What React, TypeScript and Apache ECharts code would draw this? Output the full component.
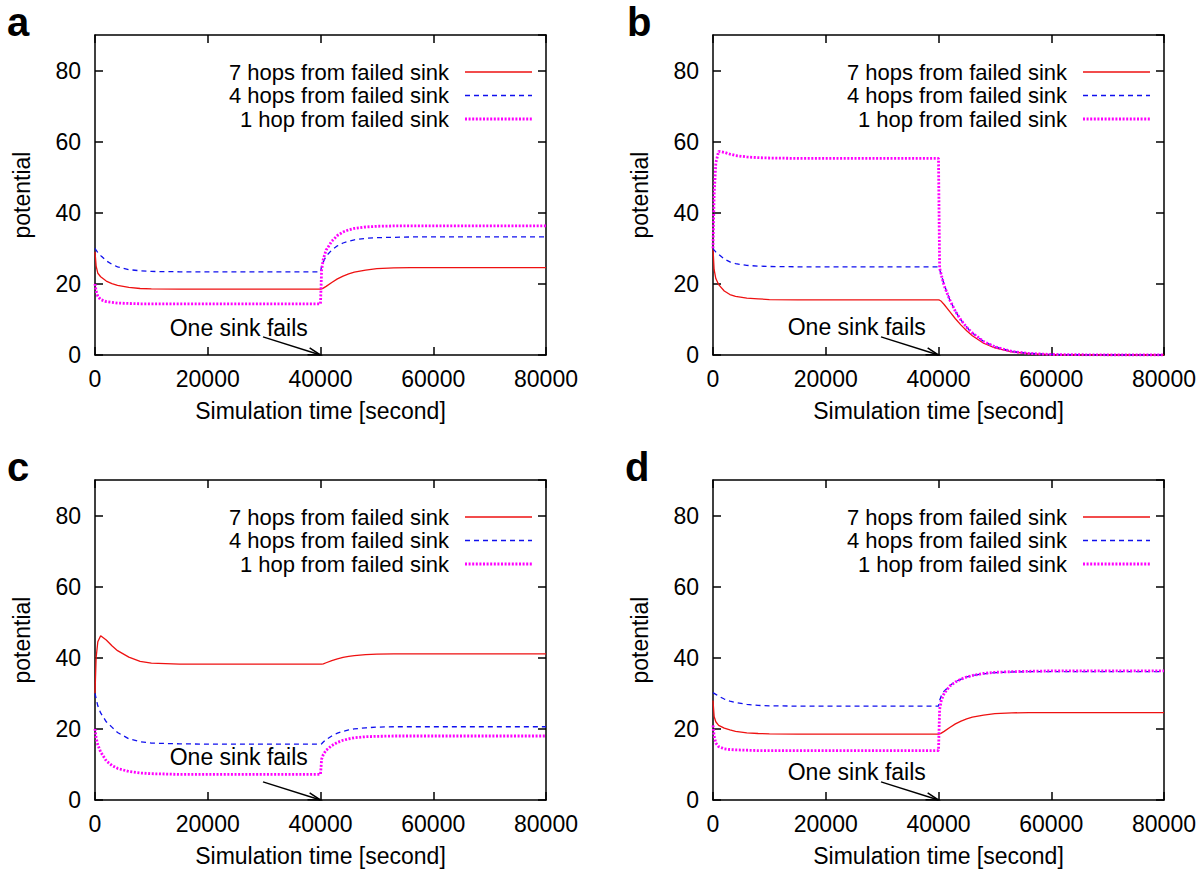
import React, { useEffect, useRef } from "react";
import * as echarts from "echarts";

// ---------- data ----------
const TIME = [
  0, 200, 500, 1000, 2000, 3000, 4000, 6000, 8000, 10000, 15000, 20000, 30000, 40000,
  40200, 40500, 41000, 42000, 43000, 44000, 45000, 46000, 48000, 50000, 53000, 56000,
  60000, 70000, 80000,
];

const SERIES_NAMES = ["7 hops from failed sink", "4 hops from failed sink", "1 hop from failed sink"];
const PANEL_LABELS = ["a", "b", "c", "d"];
const X_TITLE = "Simulation time [second]";
const Y_TITLE = "potential";
const ANNOT_TEXT = "One sink fails";

const X_MIN = 0;
const X_MAX = 80000;
const X_STEP = 20000;
const Y_MIN = 0;
const Y_MAX = 90;
const Y_STEP = 20;

// panel a
const aHop7 = [29, 25, 23, 22, 20.8, 20.1, 19.6, 19.0, 18.7, 18.6, 18.5, 18.5, 18.5, 18.5, 18.6, 18.8, 19.3, 20.4, 21.4, 22.2, 22.8, 23.3, 23.9, 24.3, 24.5, 24.6, 24.6, 24.6, 24.6];
const aHop4 = [30, 29.5, 28.8, 28, 26.5, 25.5, 24.8, 24.0, 23.7, 23.5, 23.4, 23.4, 23.4, 23.4, 25.0, 26.2, 27.8, 29.5, 30.7, 31.5, 32.0, 32.4, 32.8, 33.0, 33.1, 33.2, 33.2, 33.2, 33.2];
const aHop1 = [20, 18, 16.5, 15.6, 15.0, 14.8, 14.6, 14.5, 14.4, 14.4, 14.4, 14.4, 14.4, 14.4, 24.0, 27.0, 29.5, 32.0, 33.6, 34.6, 35.2, 35.6, 36.0, 36.2, 36.3, 36.3, 36.3, 36.3, 36.3];
// panel b
const bHop7 = [30, 24, 21.5, 19.8, 18.0, 17.0, 16.5, 16.0, 15.8, 15.6, 15.5, 15.5, 15.5, 15.5, 15.4, 15.1, 14.2, 12.2, 10.2, 8.4, 6.8, 5.4, 3.3, 2.0, 0.9, 0.4, 0.12, 0, 0];
const bHop4 = [30, 29.5, 29, 28.3, 27.0, 26.2, 25.7, 25.2, 25.0, 24.9, 24.8, 24.8, 24.8, 24.8, 24.0, 22.5, 19.8, 15.5, 12.3, 9.8, 7.8, 6.2, 3.8, 2.3, 1.0, 0.45, 0.15, 0, 0];
const bHop1 = [30, 45, 54, 57.3, 57.0, 56.5, 56.1, 55.7, 55.5, 55.4, 55.3, 55.3, 55.3, 55.3, 24.5, 22.5, 19.5, 15.5, 12.3, 9.8, 7.8, 6.2, 3.8, 2.3, 1.0, 0.45, 0.15, 0, 0];
// panel c
const cHop7 = [30, 40, 44.5, 46.2, 45.0, 43.4, 42.0, 40.2, 39.0, 38.5, 38.2, 38.2, 38.2, 38.2, 38.2, 38.3, 38.6, 39.2, 39.7, 40.1, 40.4, 40.6, 40.9, 41.0, 41.1, 41.1, 41.1, 41.1, 41.1];
const cHop4 = [30, 28.5, 26.5, 24.5, 22.0, 20.5, 19.0, 17.2, 16.4, 16.0, 15.8, 15.7, 15.7, 15.7, 15.8, 16.3, 17.0, 18.0, 18.8, 19.3, 19.7, 20.0, 20.3, 20.5, 20.6, 20.6, 20.6, 20.6, 20.6];
const cHop1 = [20, 17.5, 15.5, 13.5, 11.0, 9.7, 8.9, 8.0, 7.6, 7.4, 7.2, 7.2, 7.2, 7.2, 11.5, 12.8, 14.0, 15.3, 16.2, 16.8, 17.2, 17.5, 17.8, 17.9, 18.0, 18.0, 18.0, 18.0, 18.0];
// panel d
const dHop7 = [28, 23.5, 22, 21.0, 20.2, 19.7, 19.3, 18.9, 18.7, 18.6, 18.5, 18.5, 18.5, 18.5, 18.6, 18.8, 19.3, 20.4, 21.4, 22.2, 22.8, 23.3, 23.9, 24.3, 24.5, 24.6, 24.6, 24.6, 24.6];
const dHop4 = [30.2, 30.0, 29.7, 29.2, 28.4, 27.8, 27.4, 26.9, 26.6, 26.5, 26.4, 26.4, 26.4, 26.4, 28.0, 29.3, 30.6, 32.2, 33.3, 34.0, 34.6, 35.0, 35.5, 35.8, 36.0, 36.1, 36.1, 36.1, 36.1];
const dHop1 = [21, 18, 16, 15.0, 14.4, 14.2, 14.1, 14.0, 13.9, 13.9, 13.9, 13.9, 13.9, 13.9, 25.5, 28.0, 30.0, 32.0, 33.2, 34.0, 34.6, 35.0, 35.6, 35.9, 36.1, 36.2, 36.3, 36.3, 36.3];

const PANEL_DATA = [
  [aHop7, aHop4, aHop1],
  [bHop7, bHop4, bHop1],
  [cHop7, cHop4, cHop1],
  [dHop7, dHop4, dHop1],
];

// annotation anchor points (data coordinates)
const ANNOT_TEXT_X = [25500, 25500, 25500, 25500];
const ANNOT_TEXT_Y = [7.6, 7.9, 12.1, 7.9];
const ARROW_FROM = [29800, 5.1];
const ARROW_TO = [40000, 0];

// ---------- layout & style ----------
const GRID_LEFT = [95, 713, 95, 713];
const GRID_TOP = [35, 35, 480, 480];
const GRID_W = 451;
const GRID_H = 320;
const FONT = '"Liberation Sans", Arial, Helvetica, sans-serif';
const FS = 23;
const LEGEND_FS = 22;

const LINE_STYLES = [
  { color: "#ee1111", width: 1.3, type: "solid" as any },
  { color: "#1010ee", width: 1.3, type: [5, 4] as any },
  { color: "#ff00ff", width: 2.8, type: [2, 1.6] as any },
];

function buildOption() {
  const grids: any[] = [];
  const xAxes: any[] = [];
  const yAxes: any[] = [];
  const series: any[] = [];
  const frameLine = { show: true, onZero: false, lineStyle: { color: "#000", width: 1.5 } };
  const tick = { show: true, inside: true, length: 8, lineStyle: { color: "#000", width: 1.5 } };
  for (let i = 0; i < 4; i++) {
    grids.push({ left: GRID_LEFT[i], top: GRID_TOP[i], width: GRID_W, height: GRID_H, containLabel: false });
    xAxes.push({
      type: "value", gridIndex: i, position: "bottom", min: X_MIN, max: X_MAX, interval: X_STEP,
      axisLine: frameLine, axisTick: tick, splitLine: { show: false },
      axisLabel: { color: "#000", fontSize: FS, fontFamily: FONT, margin: 12, formatter: (v: number) => String(v) },
      name: X_TITLE, nameLocation: "middle", nameGap: 44,
      nameTextStyle: { color: "#000", fontSize: FS, fontFamily: FONT },
    });
    xAxes.push({
      type: "value", gridIndex: i, position: "top", min: X_MIN, max: X_MAX, interval: X_STEP,
      axisLine: frameLine, axisTick: tick, splitLine: { show: false }, axisLabel: { show: false },
    });
    yAxes.push({
      type: "value", gridIndex: i, position: "left", min: Y_MIN, max: Y_MAX, interval: Y_STEP,
      axisLine: frameLine, axisTick: tick, splitLine: { show: false },
      axisLabel: { color: "#000", fontSize: FS, fontFamily: FONT, margin: 14, showMaxLabel: false, formatter: (v: number) => String(v) },
      name: Y_TITLE, nameLocation: "middle", nameGap: 62, nameRotate: 90,
      nameTextStyle: { color: "#000", fontSize: FS, fontFamily: FONT },
    });
    yAxes.push({
      type: "value", gridIndex: i, position: "right", min: Y_MIN, max: Y_MAX, interval: Y_STEP,
      axisLine: frameLine, axisTick: tick, splitLine: { show: false }, axisLabel: { show: false },
    });
    PANEL_DATA[i].forEach((vals, s) => {
      series.push({
        name: SERIES_NAMES[s],
        type: "line",
        xAxisIndex: 2 * i,
        yAxisIndex: 2 * i,
        showSymbol: false,
        symbol: "none",
        smooth: false,
        z: 3 + s,
        lineStyle: { ...LINE_STYLES[s] },
        itemStyle: { color: LINE_STYLES[s].color },
        data: TIME.map((t, k) => [t, vals[k]]),
      });
    });
  }
  return {
    animation: false,
    backgroundColor: "#ffffff",
    grid: grids,
    xAxis: xAxes,
    yAxis: yAxes,
    series,
  };
}

function buildGraphics(chart: any) {
  const g: any[] = [];
  const labelPos = [
    [7, 22],
    [627, 22],
    [7, 467],
    [625, 467],
  ];
  for (let i = 0; i < 4; i++) {
    // panel letter
    g.push({
      type: "text", x: labelPos[i][0], y: labelPos[i][1],
      style: { text: PANEL_LABELS[i], fill: "#000", fontSize: 40, fontWeight: "bold", fontFamily: FONT, align: "left", verticalAlign: "middle" },
    });
    // legend
    const bx = GRID_LEFT[i];
    const by = GRID_TOP[i];
    const rows = [37, 60.5, 84];
    SERIES_NAMES.forEach((name, s) => {
      g.push({
        type: "text", x: bx + 354, y: by + rows[s],
        style: { text: name, fill: "#000", fontSize: LEGEND_FS, fontFamily: FONT, align: "right", verticalAlign: "middle" },
      });
      const ls = LINE_STYLES[s];
      g.push({
        type: "line",
        shape: { x1: bx + 370, y1: by + rows[s], x2: bx + 437, y2: by + rows[s] },
        style: { stroke: ls.color, lineWidth: ls.width, lineDash: Array.isArray(ls.type) ? ls.type : null },
      });
    });
    // annotation
    const finder = { xAxisIndex: 2 * i, yAxisIndex: 2 * i };
    const tp = chart.convertToPixel(finder, [ANNOT_TEXT_X[i], ANNOT_TEXT_Y[i]]);
    const p0 = chart.convertToPixel(finder, ARROW_FROM);
    const p1 = chart.convertToPixel(finder, ARROW_TO);
    g.push({
      type: "text", x: tp[0], y: tp[1],
      style: { text: ANNOT_TEXT, fill: "#000", fontSize: FS, fontFamily: FONT, align: "center", verticalAlign: "middle" },
    });
    g.push({
      type: "line",
      shape: { x1: p0[0], y1: p0[1], x2: p1[0], y2: p1[1] },
      style: { stroke: "#000", lineWidth: 1.5 },
    });
    const dx = p1[0] - p0[0];
    const dy = p1[1] - p0[1];
    const len = Math.sqrt(dx * dx + dy * dy);
    const ux = dx / len;
    const uy = dy / len;
    const L = 13;
    const ang = (16 * Math.PI) / 180;
    const rot = (a: number) => [ux * Math.cos(a) - uy * Math.sin(a), ux * Math.sin(a) + uy * Math.cos(a)];
    const r1 = rot(ang);
    const r2 = rot(-ang);
    g.push({
      type: "polyline",
      shape: {
        points: [
          [p1[0] - L * r1[0], p1[1] - L * r1[1]],
          [p1[0], p1[1]],
          [p1[0] - L * r2[0], p1[1] - L * r2[1]],
        ],
      },
      style: { stroke: "#000", lineWidth: 1.5, fill: null },
    });
  }
  return g;
}

export default function App() {
  const ref = useRef<HTMLDivElement>(null);
  useEffect(() => {
    document.body.style.margin = "0";
    if (!ref.current) return;
    const chart = echarts.init(ref.current, null, { renderer: "svg" });
    chart.setOption(buildOption());
    chart.setOption({ graphic: buildGraphics(chart) });
    return () => chart.dispose();
  }, []);
  return <div ref={ref} style={{ width: 1200, height: 872, background: "#fff" }} />;
}
